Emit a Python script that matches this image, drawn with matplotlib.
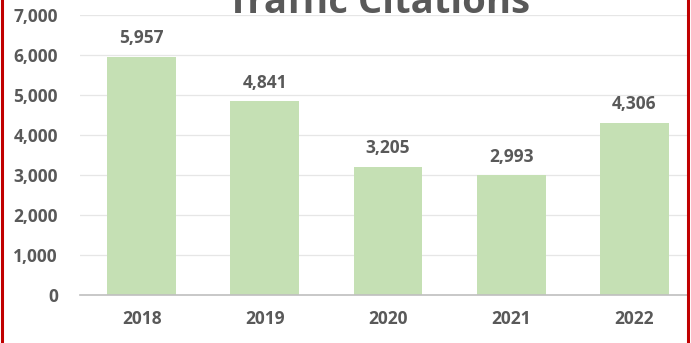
import matplotlib
matplotlib.use("Agg")
import matplotlib.pyplot as plt
from matplotlib.lines import Line2D
from matplotlib.patches import Rectangle

# chart data
years = ["2018", "2019", "2020", "2021", "2022"]
citations = [5957, 4841, 3205, 2993, 4306]
yticks = [0, 1000, 2000, 3000, 4000, 5000, 6000, 7000]

W, H = 691, 343
gray = "#595959"
bar_green = "#c5e0b4"

plt.rcParams['font.family'] = ['Open Sans', 'DejaVu Sans']

fig = plt.figure(figsize=(W / 100, H / 100), dpi=100)
ax = fig.add_axes([80 / W, 48 / H, 616 / W, 280 / H])

x = range(len(years))
bars = ax.bar(x, citations, width=0.56, color=bar_green, zorder=2)

ax.set_xlim(-0.5, len(years) - 0.5)
ax.set_ylim(0, 7000)
ax.set_yticks(yticks)
ax.set_yticklabels([f"{v:,}" for v in yticks])
ax.set_xticks(list(x))
ax.set_xticklabels(years)
ax.yaxis.grid(True, color="#e6e6e6", linewidth=0.9, zorder=0)
ax.set_axisbelow(True)

for s in ["top", "right", "left"]:
    ax.spines[s].set_visible(False)
ax.spines["bottom"].set_color("#bfbfbf")
ax.spines["bottom"].set_linewidth(1.2)

ax.tick_params(axis="both", length=0, labelcolor=gray, labelsize=12.5)
ax.tick_params(axis="y", pad=16)
ax.tick_params(axis="x", pad=11)
for lab in ax.get_xticklabels() + ax.get_yticklabels():
    lab.set_fontweight("bold")

for b, v in zip(bars, citations):
    ax.annotate(f"{v:,}", (b.get_x() + b.get_width() / 2, v),
                xytext=(0, 7), textcoords="offset points",
                ha="center", va="bottom", fontsize=12.5,
                fontweight="bold", color=gray)

fig.text(379 / W, (H - 13) / H, "Traffic Citations", ha="center",
         va="baseline", fontsize=27.5, fontweight="bold", color=gray)

# red frame on the left and right
fig.add_artist(Rectangle((689 / W, 0), 2 / W, 1, transform=fig.transFigure,
                         color="white", zorder=10))
fig.add_artist(Line2D([1.5 / W, 1.5 / W], [0, 1], color="#c00000",
                      linewidth=2.2, transform=fig.transFigure, zorder=11))
fig.add_artist(Line2D([687.5 / W, 687.5 / W], [0, 1], color="#c00000",
                      linewidth=2.2, transform=fig.transFigure, zorder=11))

fig.savefig("out.png", dpi=100)
